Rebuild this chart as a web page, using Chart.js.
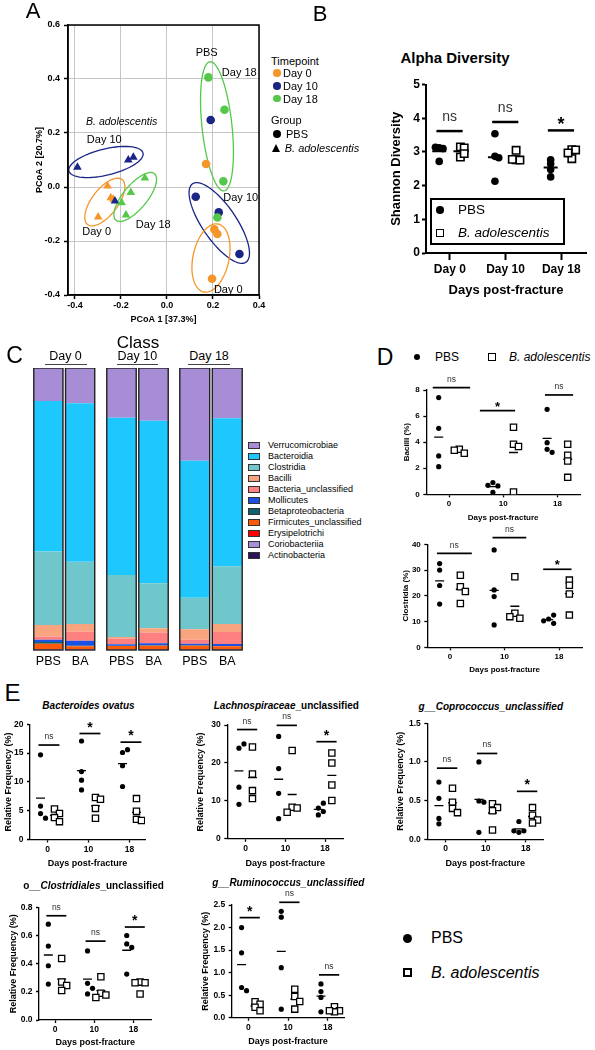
<!DOCTYPE html>
<html>
<head>
<meta charset="utf-8">
<title>Figure</title>
<script src="https://cdn.jsdelivr.net/npm/chart.js@4.4.1/dist/chart.umd.min.js"></script>
<style>
  body { margin: 0; background: #fff; }
  #page { position: relative; width: 595px; height: 1050px; overflow: hidden; font-family: "Liberation Sans", Arial, sans-serif; color: #000; }
  #page canvas { position: absolute; }
  .t { position: absolute; white-space: nowrap; line-height: 1; }
  .mk { position: absolute; box-sizing: border-box; }
</style>
</head>
<body>
<div id="page"></div>
<script>
const FONT = '"Liberation Sans", Arial, sans-serif';

// ---------- shared ----------
const dayNames = ["Day 0", "Day 10", "Day 18"];
const dayTicks = ["0", "10", "18"];

// ---------- A: PCoA ----------
const pcoaPbsX = [0.18, 0.19, 0.25, 0.17, 0.245, 0.125, 0.225, 0.219, 0.206, 0.219, 0.315, 0.196];
const pcoaPbsY = [0.406, 0.248, 0.286, 0.085, 0.021, -0.036, -0.094, -0.113, -0.157, -0.174, -0.248, -0.34];
const pcoaPbsDay = [18, 10, 18, 0, 18, 10, 10, 18, 0, 0, 10, 0];
const pcoaBaX = [-0.389, -0.168, -0.146, -0.258, -0.244, -0.233, -0.226, -0.197, -0.299, -0.157, -0.096, -0.178];
const pcoaBaY = [0.073, 0.1, 0.11, 0.004, -0.04, -0.045, -0.052, -0.058, -0.111, -0.02, 0.033, -0.104];
const pcoaBaDay = [10, 10, 10, 0, 0, 0, 10, 18, 0, 18, 18, 18];
const pcoaTicksX = [-0.4, -0.2, 0, 0.2, 0.4];
const pcoaTicksY = [-0.4, -0.2, 0, 0.2, 0.4, 0.6];
// confidence ellipses: centre and two half axes, in PCoA units
const pcoaEllipses = [
  { day: 10, c: [-0.265, 0.0926], a: [0.161, 0.0333], b: [0.0135, -0.047] },
  { day: 0, c: [-0.27, -0.0556], a: [0.0748, 0.0833], b: [0.0448, -0.0293] },
  { day: 18, c: [-0.1378, -0.037], a: [0.0835, 0.0863], b: [0.0404, -0.0281] },
  { day: 18, c: [0.2174, 0.2248], a: [-0.0304, 0.2393], b: [0.0648, 0.0059] },
  { day: 10, c: [0.2274, -0.1333], a: [0.1161, -0.1452], b: [0.0613, 0.0356] },
  { day: 0, c: [0.1913, -0.263], a: [0.0317, 0.1259], b: [0.0765, -0.0141] },
];

// ---------- B: Shannon ----------
const shannonPbs = [[3.12, 3.10, 3.14, 2.72], [3.54, 2.87, 2.83, 2.13], [2.65, 2.77, 2.48, 2.26]];
const shannonBa = [[3.15, 3.12, 2.85, 2.95], [3.05, 2.77, 2.76, 2.78], [3.07, 3.06, 2.80, 2.97]];
const shannonSig = ["ns", "ns", "*"];
const shannonSigY = [3.62, 3.89, 3.64];

// ---------- C: class composition (%) ----------
const classBarLabels = ["PBS", "BA", "PBS", "BA", "PBS", "BA"];
const classNames = ["Verrucomicrobiae", "Bacteroidia", "Clostridia", "Bacilli", "Bacteria_unclassified",
  "Mollicutes", "Betaproteobacteria", "Firmicutes_unclassified", "Erysipelotrichi", "Coriobacteriia", "Actinobacteria"];
const classPercent = [
  [11.7, 12.5, 17.6, 18.7, 32.9, 17.8],
  [53.4, 56.2, 55.8, 57.6, 48.6, 52.5],
  [26.0, 22.1, 22.0, 16.0, 11.1, 20.5],
  [4.1, 2.7, 0.6, 1.5, 3.8, 2.8],
  [1.2, 3.2, 2.0, 3.8, 1.4, 4.3],
  [0.8, 1.8, 0.5, 0.7, 0.5, 0.7],
  [0.6, 0.2, 0.1, 0.2, 0.2, 0.1],
  [1.9, 1.0, 1.1, 1.2, 1.2, 1.0],
  [0.1, 0.1, 0.1, 0.1, 0.1, 0.1],
  [0.1, 0.1, 0.1, 0.1, 0.1, 0.1],
  [0.1, 0.1, 0.1, 0.1, 0.1, 0.1],
];

// ---------- D: Bacilli / Clostridia ----------
const bacilliPbs = [[7.42, 5.06, 2.94, 2.12], [0.9, 0.64, 0.69, 0.15], [6.52, 3.96, 3.45, 3.22]];
const bacilliBa = [[3.45, 3.15, 3.38], [5.14, 3.84, 3.66, 0.18], [3.84, 3.0, 2.56, 1.3]];
const bacilliSig = ["ns", "*", "ns"];
const bacilliSigY = [8.18, 6.42, 7.62];
const clostPbs = [[32.5, 30.0, 24.0, 16.8], [37.8, 22.3, 19.7, 8.7], [11.0, 9.3, 12.5, 10.3]];
const clostBa = [[28.0, 23.5, 21.7, 17.0], [27.4, 13.2, 11.3, 11.9], [26.1, 24.1, 20.7, 12.5]];
const clostSig = ["ns", "ns", "*"];
const clostSigY = [36.5, 42.6, 30.3];

// ---------- E: taxa ----------
const ovatusPbs = [[14.7, 5.8, 4.5, 3.7], [17.1, 11.8, 10.3, 8.6], [15.1, 15.6, 12.8, 9.2]];
const ovatusBa = [[5.3, 4.5, 3.8, 3.1], [7.3, 7.0, 5.4, 3.7], [7.1, 4.9, 3.5, 3.3]];
const ovatusSig = ["ns", "*", "*"];
const ovatusSigY = [16.4, 18.4, 16.9];
const lachnoPbs = [[23.9, 25.0, 13.6, 9.1], [27.0, 18.5, 12.0, 5.3], [8.1, 9.4, 6.3, 7.2]];
const lachnoBa = [[24.2, 17.1, 12.7, 10.6], [23.3, 8.3, 8.1, 7.0], [22.6, 20.0, 14.2, 10.1]];
const lachnoSig = ["ns", "ns", "*"];
const lachnoSigY = [28.8, 29.9, 25.6];
const coproPbs = [[0.74, 0.53, 0.27, 0.2], [1.0, 0.495, 0.48, 0.09], [0.23, 0.09, 0.11, 0.11]];
const coproBa = [[0.66, 0.48, 0.40, 0.345], [0.46, 0.41, 0.37, 0.12], [0.41, 0.31, 0.25, 0.21]];
const coproSig = ["ns", "ns", "*"];
const coproSigY = [0.92, 1.11, 0.62];
const clostrPbs = [[0.68, 0.525, 0.385, 0.255], [0.49, 0.26, 0.225, 0.185], [0.60, 0.54, 0.515, 0.326]];
const clostrBa = [[0.437, 0.27, 0.245, 0.21], [0.307, 0.19, 0.177, 0.16], [0.27, 0.265, 0.265, 0.185]];
const clostrSig = ["ns", "ns", "*"];
const clostrSigY = [0.74, 0.56, 0.66];
const ruminoPbs = [[2.0, 1.44, 0.67, 0.6], [2.36, 2.23, 1.11, 0.19], [0.75, 0.58, 0.45, 0.13]];
const ruminoBa = [[0.355, 0.3, 0.23, 0.155], [0.63, 0.47, 0.36, 0.19], [0.245, 0.155, 0.13, 0.155]];
const ruminoSig = ["*", "ns", "ns"];
const ruminoSigY = [2.22, 2.56, 0.95];

// ---------- styles ----------
const dayColor = { 0: "#F5962A", 10: "#1B2586", 18: "#55C84B" };
const classColors = ["#A68DD6", "#1EC8FF", "#70C7CB", "#F7A47F", "#FF8080", "#1C4FE4",
  "#0D6470", "#FF5A0A", "#FF0000", "#A890D8", "#2B1558"];

Chart.defaults.font.family = FONT;
Chart.defaults.color = "#000";

const page = document.getElementById("page");

function put(html, x, y, css, anchor) {
  const d = document.createElement("div");
  d.className = "t";
  d.innerHTML = html;
  if (css) d.style.cssText += css;
  d.style.left = x + "px";
  d.style.top = y + "px";
  d.style.transform = anchor === "l" ? "translateY(-50%)" : "translate(-50%,-50%)";
  page.appendChild(d);
  return d;
}

function marker(kind, cx, cy, size, color, bw) {
  const d = document.createElement("div");
  d.className = "mk";
  if (kind === "tri") {
    d.style.cssText += `width:0;height:0;border-left:${size / 2}px solid transparent;border-right:${size / 2}px solid transparent;border-bottom:${size * 0.9}px solid ${color};`;
    d.style.left = cx - size / 2 + "px";
    d.style.top = cy - size * 0.5 + "px";
  } else {
    d.style.width = size + "px";
    d.style.height = size + "px";
    d.style.left = cx - size / 2 + "px";
    d.style.top = cy - size / 2 + "px";
    if (kind === "dot") { d.style.borderRadius = "50%"; d.style.background = color; }
    else if (kind === "sq") { d.style.border = `${bw}px solid ${color}`; d.style.background = "#fff"; }
    else if (kind === "box") { d.style.border = "1px solid #333"; d.style.background = color; }
  }
  page.appendChild(d);
}

function canvasAt(r) {
  const c = document.createElement("canvas");
  c.width = r.r - r.l;
  c.height = r.b - r.t;
  c.style.left = r.l + "px";
  c.style.top = r.t + "px";
  c.style.width = c.width + "px";
  c.style.height = c.height + "px";
  page.appendChild(c);
  return c.getContext("2d");
}

function fixSize(size) {
  return (s) => {
    if (s.isHorizontal()) s.height = size; else s.width = size;
    s.paddingLeft = s.paddingRight = s.paddingTop = s.paddingBottom = 0;
  };
}

function layoutOf(rect, area) {
  return {
    padding: { left: 0, top: area.t - rect.t, right: rect.r - area.r, bottom: 0 },
    yFit: area.l - rect.l,
    xFit: rect.b - area.b,
  };
}

function axisOpts(o) {
  return {
    type: "linear", min: o.min, max: o.max,
    afterBuildTicks: (s) => { s.ticks = o.ticks.map((v) => ({ value: v })); },
    afterFit: fixSize(o.fit),
    grid: { display: true, drawOnChartArea: !!o.gridColor, color: o.gridColor || "#000", lineWidth: 1,
      drawTicks: true, tickLength: o.tl, tickColor: "#000", tickWidth: o.lw },
    border: { display: true, color: "#000", width: o.lw },
    ticks: { padding: o.pad, autoSkip: false, maxRotation: 0, color: "#000",
      font: { family: FONT, size: o.size, weight: "bold" }, callback: o.fmt },
    title: { display: true, text: o.title, padding: 0, color: "#000",
      font: { family: FONT, size: o.titleSize, weight: "bold" } },
  };
}

// ---------- plugins ----------
const sigPlugin = {
  id: "sig",
  afterDatasetsDraw(chart, args, o) {
    if (!o.items) return;
    const { ctx, scales: { x, y } } = chart;
    ctx.save();
    o.items.forEach((it) => {
      const x1 = x.getPixelForValue(it.x1), x2 = x.getPixelForValue(it.x2);
      const py = y.getPixelForValue(it.y);
      ctx.strokeStyle = "#000";
      ctx.lineWidth = o.lw;
      ctx.beginPath(); ctx.moveTo(x1, py); ctx.lineTo(x2, py); ctx.stroke();
      const star = it.label === "*";
      ctx.font = star ? `bold ${o.starSize}px ${FONT}` : `${o.nsSize}px ${FONT}`;
      ctx.fillStyle = star ? "#000" : "#333";
      ctx.textAlign = "center";
      ctx.textBaseline = "alphabetic";
      ctx.fillText(it.label, (x1 + x2) / 2, py - (star ? o.starGap : o.nsGap));
    });
    ctx.restore();
  },
};

const ellipsePlugin = {
  id: "ellipses",
  beforeDatasetsDraw(chart, args, o) {
    const { ctx, scales: { x, y } } = chart;
    ctx.save();
    ctx.lineWidth = 1.3;
    o.items.forEach((e) => {
      ctx.strokeStyle = dayColor[e.day];
      ctx.beginPath();
      for (let k = 0; k <= 72; k++) {
        const t = (k / 72) * Math.PI * 2;
        const dx = e.c[0] + e.a[0] * Math.cos(t) + e.b[0] * Math.sin(t);
        const dy = e.c[1] + e.a[1] * Math.cos(t) + e.b[1] * Math.sin(t);
        const px = x.getPixelForValue(dx), py = y.getPixelForValue(dy);
        if (k === 0) ctx.moveTo(px, py); else ctx.lineTo(px, py);
      }
      ctx.stroke();
    });
    ctx.restore();
  },
};

const framePlugin = {
  id: "frame",
  afterDraw(chart) {
    const { ctx, chartArea: a } = chart;
    ctx.save();
    ctx.strokeStyle = "#000";
    ctx.lineWidth = 1.5;
    ctx.strokeRect(a.left, a.top, a.right - a.left, a.bottom - a.top);
    ctx.restore();
  },
};

const outlinePlugin = {
  id: "outline",
  afterDatasetsDraw(chart) {
    const ctx = chart.ctx;
    const metas = chart.getSortedVisibleDatasetMetas();
    ctx.save();
    ctx.strokeStyle = "#222";
    ctx.lineWidth = 1.4;
    chart.data.labels.forEach((lab, i) => {
      const bars = metas.map((m) => m.data[i]);
      const top = Math.min(...bars.map((b) => b.y));
      const bottom = Math.max(...bars.map((b) => b.base));
      const el = bars[0];
      ctx.strokeRect(el.x - el.width / 2, top, el.width, bottom - top);
    });
    ctx.restore();
  },
};

// spread points of one group sideways when they would overlap (pixels)
function swarm(vals, pxPerUnit, step) {
  const placed = [];
  return vals.map((v) => {
    const py = v * pxPerUnit;
    let best = 0;
    for (const k of [0, 1, -1, 2, -2, 3, -3]) {
      const ox = k * step;
      if (placed.every((p) => Math.hypot(p[0] - ox, p[1] - py) >= step)) { best = ox; break; }
    }
    placed.push([best, py]);
    return best;
  });
}

function dotPanel(p) {
  const lay = layoutOf(p.rect, p.area);
  const xMin = -(p.c0 - p.area.l) / p.dx;
  const xMax = (p.area.r - p.c0) / p.dx;
  const pxY = (p.area.b - p.area.t) / p.yMax;
  const dots = [], boxes = [], means = [];
  [p.pbs, p.ba].forEach((groups, g) => {
    const side = g === 0 ? -p.off : p.off;
    groups.forEach((vals, d) => {
      const shift = swarm(vals, pxY, p.step);
      vals.forEach((v, i) => (g === 0 ? dots : boxes).push({ x: d + side + shift[i] / p.dx, y: v }));
      means.push({ x: d + side, y: vals.reduce((s, v) => s + v, 0) / vals.length });
    });
  });
  const sigItems = p.sig.map((lab, d) => {
    const span = (p.sigSpans && p.sigSpans[d]) || p.sigSpan;
    return { x1: d + span[0], x2: d + span[1], y: p.sigY[d], label: lab };
  });
  const yTicks = [];
  for (let k = 0; k * p.yStep <= p.yMax + 1e-9; k++) yTicks.push(+(k * p.yStep).toFixed(4));
  new Chart(canvasAt(p.rect), {
    type: "scatter",
    data: {
      datasets: [
        { data: dots, pointStyle: "circle", pointRadius: p.dotR, pointBackgroundColor: "#000", pointBorderWidth: 0 },
        { data: boxes, pointStyle: "rect", pointRadius: p.boxR, pointBackgroundColor: "#fff", pointBorderColor: "#000", pointBorderWidth: p.boxW },
        { data: means, pointStyle: "line", pointRadius: p.meanR, pointBorderColor: "#000", pointBorderWidth: p.meanW },
      ],
    },
    options: {
      responsive: false, animation: false, events: [],
      layout: { padding: lay.padding },
      plugins: { legend: { display: false }, tooltip: { enabled: false }, sig: Object.assign({ items: sigItems }, p.sigStyle) },
      scales: {
        x: axisOpts({ min: xMin, max: xMax, ticks: [0, 1, 2], fit: lay.xFit, tl: p.xtl, lw: p.lw, pad: p.xpad,
          size: p.tickSize, fmt: (v) => p.xLabels[v], title: p.xTitle, titleSize: p.titleSize }),
        y: axisOpts({ min: 0, max: p.yMax, ticks: yTicks, fit: lay.yFit, tl: p.ytl, lw: p.lw, pad: p.ypad,
          size: p.tickSize, fmt: (v) => v.toFixed(p.dec), title: p.yTitle, titleSize: p.titleSize }),
      },
    },
    plugins: [sigPlugin],
  });
}

// ---------- A ----------
(function () {
  const rect = { l: 34, t: 14, r: 268, b: 325 };
  const area = { l: 68, t: 25, r: 259, b: 295 };
  const lay = layoutOf(rect, area);
  new Chart(canvasAt(rect), {
    type: "scatter",
    data: {
      datasets: [
        { data: pcoaPbsX.map((x, i) => ({ x, y: pcoaPbsY[i] })), pointStyle: "circle", pointRadius: 4.3,
          pointBackgroundColor: pcoaPbsDay.map((d) => dayColor[d]), pointBorderWidth: 0 },
        { data: pcoaBaX.map((x, i) => ({ x, y: pcoaBaY[i] })), pointStyle: "triangle", pointRadius: 5,
          pointBackgroundColor: pcoaBaDay.map((d) => dayColor[d]), pointBorderWidth: 0 },
      ],
    },
    options: {
      responsive: false, animation: false, events: [],
      layout: { padding: lay.padding },
      plugins: { legend: { display: false }, tooltip: { enabled: false }, ellipses: { items: pcoaEllipses } },
      scales: {
        x: axisOpts({ min: -0.43, max: 0.4, ticks: pcoaTicksX, fit: lay.xFit, gridColor: "#c6c6c6", tl: 4, lw: 1.5,
          pad: 1.6, size: 9, fmt: (v) => v.toFixed(1), title: "PCoA 1 [37.3%]", titleSize: 9 }),
        y: axisOpts({ min: -0.4, max: 0.6, ticks: pcoaTicksY, fit: lay.yFit, gridColor: "#c6c6c6", tl: 4, lw: 1.5,
          pad: 4, size: 9, fmt: (v) => v.toFixed(1), title: "PCoA 2 [20.7%]", titleSize: 9 }),
      },
    },
    plugins: [ellipsePlugin, framePlugin],
  });
  const f = "font-size:11px;";
  put("PBS", 206.7, 51.7, f);
  put("Day 18", 239.3, 72.3, f);
  put("<i>B. adolescentis</i>", 121.7, 121, "font-size:10.5px;");
  put("Day 10", 104.3, 139.3, f);
  put("Day 0", 96.7, 231, f);
  put("Day 18", 153.3, 224, f);
  put("Day 10", 240.7, 197.3, f);
  put("Day 0", 228.3, 288.7, f);
  // legend
  put("Timepoint", 271, 61, f, "l");
  [[0, 73], [10, 86], [18, 98.5]].forEach(([d, y]) => {
    marker("dot", 277, y, 7.5, dayColor[d]);
    put(dayNames[dayNames.length && [0, 10, 18].indexOf(d)], 283, y, f, "l");
  });
  put("Group", 271, 120, f, "l");
  marker("dot", 276.5, 134, 8, "#000");
  put("PBS", 286, 134, f, "l");
  marker("tri", 276.5, 148, 9, "#000");
  put("<i>B. adolescentis</i>", 284.7, 148, f, "l");
})();

// ---------- B ----------
dotPanel({
  rect: { l: 389, t: 70, r: 595, b: 298 }, area: { l: 426, t: 84.6, r: 594, b: 253 },
  c0: 451, dx: 58.5, off: 0.19, step: 4, yMax: 5, yStep: 1, dec: 0,
  pbs: shannonPbs, ba: shannonBa, sig: shannonSig, sigY: shannonSigY, sigSpan: [-0.24, 0.23],
  sigStyle: { lw: 2.5, nsSize: 14, starSize: 18, nsGap: 9.7, starGap: 0.7 },
  dotR: 3.8, boxR: 5.2, boxW: 1.6, meanR: 7, meanW: 2,
  xtl: 7, ytl: 4, xpad: 2, ypad: 2, lw: 2, tickSize: 12, titleSize: 13,
  xLabels: dayNames, xTitle: "Days post-fracture", yTitle: "Shannon Diversity",
});
put("Alpha Diversity", 455, 57, "font-size:15px;font-weight:bold;");
(function () {
  const box = document.createElement("div");
  box.className = "mk";
  box.style.cssText += "left:430px;top:198px;width:135px;height:47px;border:2px solid #000;";
  page.appendChild(box);
  marker("dot", 440, 210, 7.5, "#000");
  put("PBS", 458, 210, "font-size:13.5px;", "l");
  marker("sq", 440, 233, 8.5, "#000", 1.6);
  put("<i>B. adolescentis</i>", 458, 233, "font-size:13.5px;", "l");
})();

// ---------- C ----------
function classChart(k, rect, area) {
  const cols = [2 * k, 2 * k + 1];
  new Chart(canvasAt(rect), {
    type: "bar",
    data: {
      labels: cols.map((i) => classBarLabels[i]),
      datasets: classNames.map((name, j) => ({
        label: name, data: cols.map((i) => classPercent[j][i]), backgroundColor: classColors[j], borderWidth: 0,
        barPercentage: 0.92, categoryPercentage: 1,
      })).reverse(),
    },
    options: {
      responsive: false, animation: false, events: [],
      layout: { padding: { left: area.l - rect.l, top: area.t - rect.t, right: rect.r - area.r, bottom: 0 } },
      plugins: { legend: { display: false }, tooltip: { enabled: false } },
      scales: {
        x: { stacked: true, afterFit: fixSize(rect.b - area.b), grid: { display: false, drawTicks: false },
          border: { display: false }, ticks: { padding: 4.5, color: "#000", font: { family: FONT, size: 12.5 } } },
        y: { stacked: true, display: false, min: 0, max: 100 },
      },
    },
    plugins: [outlinePlugin],
  });
}
classChart(0, { l: 32, t: 368, r: 96, b: 672 }, { l: 32.5, t: 368, r: 96, b: 650 });
classChart(1, { l: 105, t: 368, r: 170, b: 672 }, { l: 105.5, t: 368, r: 169.5, b: 650 });
classChart(2, { l: 178, t: 368, r: 244, b: 672 }, { l: 178.5, t: 368, r: 243.5, b: 650 });
put("Class", 138, 341.7, "font-size:17px;");
[[65.5, 45, 42], [137.3, 117, 41], [209, 188, 42]].forEach(([cx, l, w], i) => {
  put(dayNames[i], cx, 355.5, "font-size:12.5px;");
  const u = document.createElement("div");
  u.className = "mk";
  u.style.cssText += `left:${l}px;top:363.5px;width:${w}px;height:1.3px;background:#444;`;
  page.appendChild(u);
});
classNames.forEach((name, i) => {
  const y = 445.3 + i * 10.97;
  const b = document.createElement("div");
  b.className = "mk";
  b.style.cssText += `left:248px;top:${y - 3.5}px;width:12px;height:7px;border:1px solid #333;background:${classColors[i]};`;
  page.appendChild(b);
  put(name, 268, y, "font-size:9px;", "l");
});

// ---------- D ----------
const dStyle = {
  off: 0.19, step: 5, dotR: 2.6, boxR: 4.4, boxW: 1.3, meanR: 4.5, meanW: 1.3,
  xtl: 3, ytl: 3, xpad: 1.2, ypad: 3.5, lw: 1.3, tickSize: 8, titleSize: 8,
  sigStyle: { lw: 1.7, nsSize: 8.5, starSize: 13, nsGap: 5.5, starGap: 0 },
  xLabels: dayTicks, xTitle: "Days post-fracture",
};
dotPanel(Object.assign({}, dStyle, {
  rect: { l: 402, t: 372, r: 592, b: 523 }, area: { l: 426.3, t: 390, r: 580, b: 494.3 },
  c0: 449, dx: 54.2, yMax: 8, yStep: 2, dec: 0,
  pbs: bacilliPbs, ba: bacilliBa, sig: bacilliSig, sigY: bacilliSigY,
  sigSpan: [-0.28, 0.32], sigSpans: [[-0.3, 0.39], [-0.43, 0.22], [-0.23, 0.29]],
  yTitle: "Bacilli (%)",
}));
dotPanel(Object.assign({}, dStyle, {
  rect: { l: 401, t: 524, r: 592, b: 675 }, area: { l: 427.3, t: 544.3, r: 582, b: 647.3 },
  c0: 450, dx: 54.5, yMax: 40, yStep: 10, dec: 0,
  pbs: clostPbs, ba: clostBa, sig: clostSig, sigY: clostSigY,
  sigSpan: [-0.28, 0.32], sigSpans: [[-0.24, 0.4], [-0.22, 0.4], [-0.29, 0.23]],
  yTitle: "Clostridia (%)",
}));
marker("dot", 417, 357, 6.7, "#000");
put("PBS", 435, 357, "font-size:12px;", "l");
marker("sq", 492, 357, 8, "#000", 1.5);
put("<i>B. adolescentis</i>", 509, 357, "font-size:12px;", "l");

// ---------- E ----------
const eStyle = {
  off: 0.17, step: 5, dotR: 2.6, boxR: 4.4, boxW: 1.3, meanR: 4.5, meanW: 1.3,
  xtl: 3, ytl: 3, xpad: 1.7, ypad: 3.5, lw: 1.3, tickSize: 8.5, titleSize: 9,
  sigSpan: [-0.22, 0.29],
  sigStyle: { lw: 1.7, nsSize: 8.5, starSize: 14, nsGap: 6, starGap: 2 },
  xLabels: dayTicks, xTitle: "Days post-fracture", yTitle: "Relative Frequency (%)",
};
dotPanel(Object.assign({}, eStyle, {
  rect: { l: 3, t: 712, r: 160, b: 869 }, area: { l: 30, t: 724.3, r: 145, b: 839.5 },
  c0: 47.5, dx: 41, yMax: 20, yStep: 5, dec: 0,
  pbs: ovatusPbs, ba: ovatusBa, sig: ovatusSig, sigY: ovatusSigY,
}));
dotPanel(Object.assign({}, eStyle, {
  rect: { l: 195, t: 712, r: 360, b: 869 }, area: { l: 227.3, t: 725, r: 343.3, b: 838.8 },
  c0: 245.7, dx: 39.7, yMax: 30, yStep: 10, dec: 0,
  pbs: lachnoPbs, ba: lachnoBa, sig: lachnoSig, sigY: lachnoSigY,
}));
dotPanel(Object.assign({}, eStyle, {
  rect: { l: 395, t: 712, r: 560, b: 869 }, area: { l: 427.3, t: 723.3, r: 543.3, b: 839.3 },
  c0: 445.7, dx: 40, yMax: 1.5, yStep: 0.5, dec: 1,
  pbs: coproPbs, ba: coproBa, sig: coproSig, sigY: coproSigY,
}));
dotPanel(Object.assign({}, eStyle, {
  rect: { l: 8, t: 890, r: 170, b: 1048 }, area: { l: 39, t: 907.3, r: 151.7, b: 1020 },
  c0: 55, dx: 39.2, yMax: 0.8, yStep: 0.2, dec: 1,
  pbs: clostrPbs, ba: clostrBa, sig: clostrSig, sigY: clostrSigY,
}));
dotPanel(Object.assign({}, eStyle, {
  rect: { l: 200, t: 885, r: 360, b: 1047 }, area: { l: 231.7, t: 905, r: 344.3, b: 1017.7 },
  c0: 248.3, dx: 39.7, yMax: 2.5, yStep: 0.5, dec: 1,
  pbs: ruminoPbs, ba: ruminoBa, sig: ruminoSig, sigY: ruminoSigY,
}));
const et = "font-size:10px;font-weight:bold;";
put("<i>Bacteroides ovatus</i>", 88.5, 706, et);
put("<i>Lachnospiraceae</i>_unclassified", 286.3, 706, et);
put("<i>g__Coprococcus_unclassified</i>", 490.8, 706.7, et);
put("o__<i>Clostridiales</i>_unclassified", 93.5, 886, et);
put("<i>g__Ruminococcus_unclassified</i>", 288.3, 883.3, et);
marker("dot", 407.7, 938.3, 9.3, "#000");
put("PBS", 431, 938.3, "font-size:16px;", "l");
marker("sq", 407.7, 972.7, 9.3, "#000", 2);
put("<i>B. adolescentis</i>", 431, 972.7, "font-size:16px;", "l");

// ---------- panel letters ----------
put("A", 33, 11, "font-size:22px;");
put("B", 320, 14, "font-size:22px;");
put("C", 14.5, 355, "font-size:23px;");
put("D", 385, 357, "font-size:23px;");
put("E", 12.5, 693, "font-size:24px;");
</script>
</body>
</html>
